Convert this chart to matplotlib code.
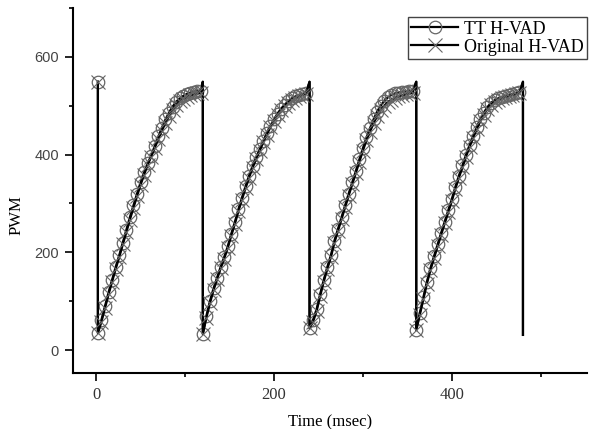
import matplotlib
matplotlib.use("Agg")
import matplotlib.pyplot as plt
from matplotlib.ticker import MultipleLocator

# sample times inside one cycle (msec after the reset)
rel_t = [0, 4, 8, 12, 16, 20, 24, 28, 32, 36, 40, 44, 48, 52, 56,
         60, 64, 68, 72, 76, 80, 84, 88, 92, 96, 100, 104, 108, 112, 116]
cycle_start = [2, 120, 240, 360]
reset_t = [120, 240, 360, 480]
peak = 549
end_low = 31

# TT H-VAD, one list per cycle
tt_c1 = [35, 62, 90, 118, 144, 170, 194, 220, 246, 272, 296, 320, 343, 364, 382,
         398, 418, 437, 455, 472, 486, 498, 508, 515, 520, 524, 527, 529, 530, 531]
tt_c2 = [33, 70, 100, 126, 148, 170, 190, 212, 238, 262, 288, 312, 335, 357, 377,
         395, 411, 428, 444, 459, 472, 484, 494, 502, 509, 515, 519, 522, 524, 526]
tt_c3 = [45, 62, 84, 115, 144, 170, 194, 224, 248, 272, 296, 320, 343, 366, 390,
         413, 435, 454, 472, 488, 500, 510, 517, 522, 525, 527, 528, 529, 530, 531]
tt_c4 = [41, 76, 108, 140, 168, 192, 216, 240, 263, 286, 309, 334, 357, 378, 400,
         420, 438, 456, 472, 486, 497, 506, 511, 515, 518, 520, 522, 524, 526, 528]

# Original H-VAD
org_c1 = [35, 58, 86, 114, 140, 166, 190, 216, 241, 267, 291, 315, 338, 359, 379,
          396, 414, 432, 449, 465, 479, 491, 501, 509, 514, 518, 521, 523, 525, 527]
org_c2 = [33, 66, 96, 122, 145, 167, 187, 209, 234, 258, 284, 308, 331, 353, 373,
          391, 408, 425, 441, 456, 469, 481, 491, 499, 506, 512, 516, 519, 522, 524]
org_c3 = [45, 58, 80, 111, 140, 166, 190, 220, 244, 268, 292, 316, 339, 362, 385,
          408, 429, 447, 464, 479, 491, 500, 507, 512, 516, 519, 521, 523, 525, 527]
org_c4 = [41, 72, 104, 136, 164, 188, 212, 236, 259, 282, 305, 330, 353, 374, 396,
          416, 434, 452, 468, 482, 493, 502, 508, 512, 515, 518, 520, 522, 524, 526]


def build(cycles):
    t = [cycle_start[0]]
    v = [peak]
    marks = [0]
    for i, vals in enumerate(cycles):
        for dt, y in zip(rel_t, vals):
            marks.append(len(t))
            t.append(cycle_start[i] + dt)
            v.append(y)
        # sharp reset at end of the cycle
        t.append(reset_t[i])
        v.append(peak)
    t.append(reset_t[-1])
    v.append(end_low)
    return t, v, marks


tt_t, tt_v, tt_m = build([tt_c1, tt_c2, tt_c3, tt_c4])
org_t, org_v, org_m = build([org_c1, org_c2, org_c3, org_c4])

fig = plt.figure(figsize=(5.94, 4.29), dpi=100)
ax = fig.add_axes([0.1229, 0.1305, 0.8653, 0.8509])

ax.plot(tt_t, tt_v, color="black", lw=1.6, marker="o", ms=9, mfc="none",
        mec="#666666", mew=0.9, markevery=tt_m, label="TT H-VAD")
ax.plot(org_t, org_v, color="black", lw=1.6, marker="x", ms=9.5, mec="#666666",
        mew=0.8, markevery=org_m, label="Original H-VAD")

ax.set_xlim(-26, 552)
ax.set_ylim(-47, 700)
ax.spines["top"].set_visible(False)
ax.spines["right"].set_visible(False)
for s in ["left", "bottom"]:
    ax.spines[s].set_linewidth(1.5)

ax.xaxis.set_major_locator(MultipleLocator(200))
ax.xaxis.set_minor_locator(MultipleLocator(100))
ax.yaxis.set_major_locator(MultipleLocator(200))
ax.yaxis.set_minor_locator(MultipleLocator(100))
ax.tick_params(which="major", direction="out", length=6, width=1.2, colors="black")
ax.tick_params(which="minor", direction="out", length=3, width=1.2)
ax.tick_params(axis="y", which="major", labelcolor="#444444", pad=4,
               labelfontfamily="Liberation Sans", labelsize=10.5)
ax.tick_params(axis="x", which="major", labelcolor="#333333", pad=4,
               labelfontfamily="Liberation Serif", labelsize=12)

ax.set_xlabel("Time (msec)", family="Liberation Serif", fontsize=12)
ax.set_ylabel("PWM", family="Liberation Serif", fontsize=12)
ax.xaxis.set_label_coords(0.5, -0.112)
ax.yaxis.set_label_coords(-0.094, 0.433)

leg = ax.legend(loc="upper right", bbox_to_anchor=(1.0, 0.975), frameon=True,
                fancybox=False, edgecolor="#444444", framealpha=1,
                prop={"family": "Liberation Serif", "size": 13},
                handlelength=2.6, handletextpad=0.3, borderpad=0.2,
                labelspacing=0.05, borderaxespad=0.0)
leg.get_frame().set_linewidth(1.0)

fig.savefig("out.png", dpi=100)
